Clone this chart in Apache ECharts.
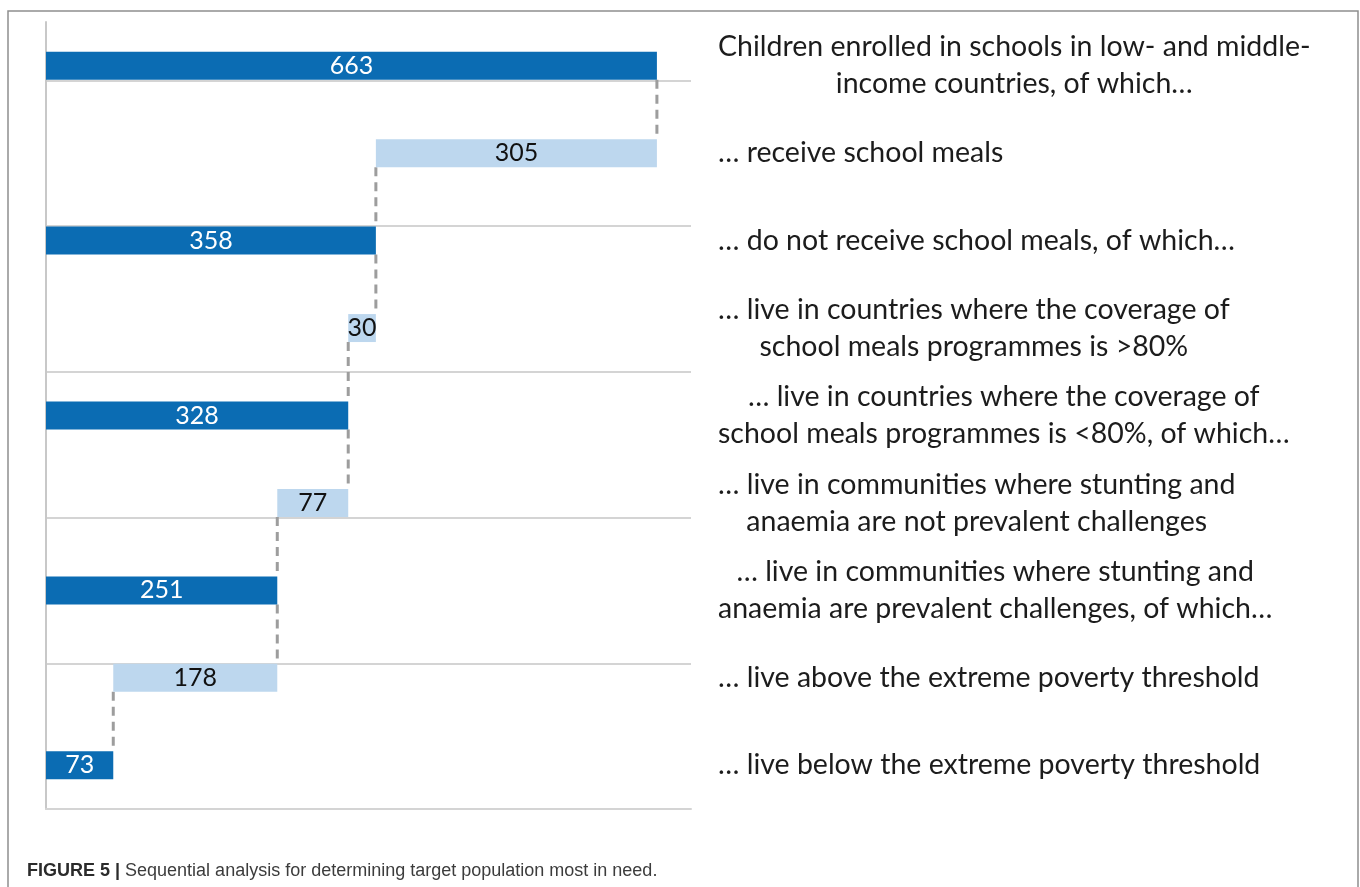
<!DOCTYPE html>
<html>
<head>
<meta charset="utf-8">
<title>Sequential analysis</title>
<script src="https://cdn.jsdelivr.net/npm/echarts@6/dist/echarts.min.js"></script>
<style>
  html, body { margin: 0; padding: 0; background: #ffffff; }
  #chart { width: 1360px; height: 887px; }
</style>
</head>
<body>
<div id="chart"></div>
<script>
// Rows of the sequential breakdown, top to bottom
const rowLabels = [
  'Children enrolled in schools in low- and middle-\nincome countries, of which…',
  '… receive school meals',
  '… do not receive school meals, of which…',
  '… live in countries where the coverage of\nschool meals programmes is >80%',
  '… live in countries where the coverage of\nschool meals programmes is <80%, of which…',
  '… live in communities where stunting and\nanaemia are not prevalent challenges',
  '… live in communities where stunting and\nanaemia are prevalent challenges, of which…',
  '… live above the extreme poverty threshold',
  '… live below the extreme poverty threshold'
];
// Millions of children in each row
const rowValues = [663, 305, 358, 30, 328, 77, 251, 178, 73];
// true = remaining group (starts at zero), false = share split off (floats)
const isRemaining = [true, false, true, false, true, false, true, false, true];
// Value axis range
const xMax = 700;

const DARK = '#0b6cb3';
const LIGHT = '#bdd7ee';
const TEXT_FONT = 'Lato, Calibri, "Open Sans", sans-serif';
const TEXT_SIZE = 28.5;

// A split-off share sits on top of the group remaining below it
const baseValues = rowValues.map((v, i) => isRemaining[i] ? 0 : rowValues[i + 1]);
const endValues = rowValues.map((v, i) => baseValues[i] + v);
// Connector between consecutive rows runs at the value they share
const connectors = [];
for (let i = 0; i < rowValues.length - 1; i++) {
  connectors.push([isRemaining[i] ? endValues[i] : baseValues[i], i]);
}
const cats = rowLabels.map((_, i) => String(i));

// Width measurement for centring wrapped row descriptions
const measureCtx = document.createElement('canvas').getContext('2d');
function blockWidth(text) {
  measureCtx.font = TEXT_SIZE + 'px ' + TEXT_FONT;
  return Math.max(...text.split('\n').map(s => measureCtx.measureText(s).width));
}

const CAPTION_FONT = '"Liberation Sans Narrow", "Liberation Sans", Arial, sans-serif';

const chart = echarts.init(document.getElementById('chart'));
chart.setOption({
  backgroundColor: '#ffffff',
  animation: false,
  title: {
    left: 22,
    top: 857,
    text: '{b|FIGURE 5 |} {n|Sequential analysis for determining target population most in need.}',
    textStyle: {
      rich: {
        b: { fontFamily: CAPTION_FONT, fontWeight: 'bold', fontSize: 18, color: '#2b2b2b' },
        n: { fontFamily: CAPTION_FONT, fontWeight: 'normal', fontSize: 18, color: '#3c3c3c' }
      }
    }
  },
  graphic: [{
    type: 'rect',
    silent: true,
    shape: { x: 8, y: 11, width: 1350, height: 900 },
    style: { fill: 'none', stroke: '#8f8f8f', lineWidth: 1.5 }
  }],
  grid: { left: 46, right: 669, top: 22, bottom: 78, containLabel: false },
  xAxis: {
    type: 'value',
    min: 0,
    max: xMax,
    axisLine: { show: true, lineStyle: { color: '#d4d4d4', width: 2 } },
    axisTick: { show: false },
    axisLabel: { show: false },
    splitLine: { show: false }
  },
  yAxis: [{
    type: 'category',
    data: cats,
    inverse: true,
    axisLine: { show: true, onZero: false, lineStyle: { color: '#c8c8c8', width: 2 } },
    axisTick: { show: false },
    axisLabel: { show: false },
    splitLine: { show: false }
  }, {
    // carries the horizontal gridlines
    type: 'value',
    min: 0,
    max: 5.4,
    interval: 1,
    position: 'right',
    axisLine: { show: false },
    axisTick: { show: false },
    axisLabel: { show: false },
    splitLine: { show: true, showMaxLine: false, lineStyle: { color: '#d4d4d4', width: 2 } }
  }],
  series: [{
    name: 'base',
    type: 'bar',
    stack: 'flow',
    yAxisIndex: 0,
    barWidth: '32%',
    silent: true,
    itemStyle: { color: 'transparent' },
    data: baseValues
  }, {
    name: 'children',
    type: 'bar',
    stack: 'flow',
    yAxisIndex: 0,
    barWidth: '32%',
    data: rowValues.map((v, i) => ({
      value: v,
      itemStyle: { color: isRemaining[i] ? DARK : LIGHT },
      label: { color: isRemaining[i] ? '#ffffff' : '#111111' }
    })),
    label: {
      show: true,
      position: 'inside',
      fontFamily: TEXT_FONT,
      fontSize: 25
    }
  }, {
    name: 'connectors',
    type: 'custom',
    yAxisIndex: 0,
    clip: false,
    silent: true,
    data: connectors,
    encode: { x: 0, y: 1 },
    renderItem: function (params, api) {
      const i = api.value(1);
      const half = api.size([0, 1])[1] * 0.16;
      const p1 = api.coord([api.value(0), i]);
      const p2 = api.coord([api.value(0), i + 1]);
      return {
        type: 'line',
        shape: { x1: p1[0], y1: p1[1] + half, x2: p2[0], y2: p2[1] - half },
        style: { stroke: '#9d9d9d', lineWidth: 3, lineDash: [9, 6] }
      };
    }
  }, {
    name: 'descriptions',
    type: 'custom',
    yAxisIndex: 0,
    clip: false,
    silent: true,
    data: rowLabels.map((t, i) => [xMax, i]),
    encode: { x: 0, y: 1 },
    renderItem: function (params, api) {
      const i = params.dataIndex;
      const p = api.coord([api.value(0), i]);
      const txt = rowLabels[i];
      const left = p[0] + 27;
      return {
        type: 'text',
        style: {
          text: txt,
          x: left + blockWidth(txt) / 2,
          y: p[1],
          align: 'center',
          verticalAlign: 'middle',
          lineHeight: 37,
          font: TEXT_SIZE + 'px ' + TEXT_FONT,
          fill: '#1c1c1c'
        }
      };
    }
  }]
});
</script>
</body>
</html>
